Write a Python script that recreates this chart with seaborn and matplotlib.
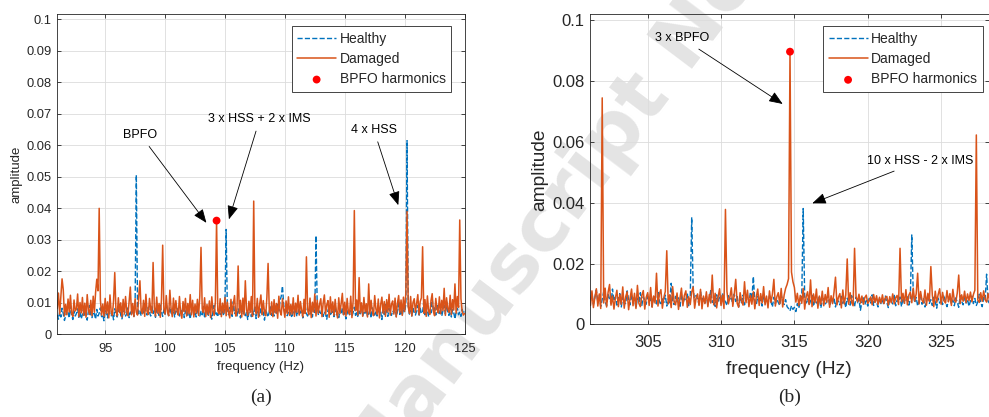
import matplotlib
matplotlib.use("Agg")
import matplotlib.pyplot as plt
import numpy as np
import seaborn as sns
from matplotlib.ticker import FormatStrFormatter

# spectrum amplitudes in units of 1e-4, sampled every 0.1 Hz
STEP_HZ = 0.1
START_A = 91.0
START_B = 301.0

healthy_a = [
    62, 48, 71, 55, 83, 66, 44, 58, 77, 69, 52, 90, 61, 47, 73, 58, 66, 81, 54, 70,
    49, 63, 86, 57, 68, 45, 74, 92, 60, 53, 71, 65, 48, 79, 58, 67, 84, 56, 62, 43,
    75, 69, 52, 88, 64, 57, 70, 46, 81, 63, 55, 72, 95, 61, 49, 68, 77, 58, 66, 84,
    53, 71, 62, 79, 57, 102, 506, 88, 65, 74, 59, 83, 68, 97, 72, 61, 86, 70, 58, 91,
    66, 75, 54, 82, 69, 60, 93, 71, 57, 78, 64, 101, 73, 59, 86, 68, 62, 80, 55, 74,
    69, 83, 58, 76, 64, 90, 53, 72, 81, 60, 67, 49, 78, 86, 62, 71, 55, 84, 66, 58,
    73, 62, 88, 51, 69, 77, 57, 83, 65, 48, 74, 92, 60, 68, 55, 79, 63, 86, 71, 59,
    98, 333, 76, 62, 85, 70, 57, 104, 66, 73, 58, 81, 67, 52, 89, 64, 75, 59, 70, 47,
    68, 82, 56, 74, 63, 91, 50, 77, 69, 58, 84, 62, 71, 45, 79, 66, 55, 73, 87, 60,
    72, 58, 83, 67, 95, 74, 108, 121, 153, 96, 64, 78, 59, 70, 86, 62, 53, 75, 68, 81,
    57, 69, 84, 63, 76, 52, 71, 90, 66, 58, 79, 64, 73, 55, 87, 69, 313, 96, 61, 74,
    66, 82, 57, 70, 63, 48, 77, 85, 59, 68, 74, 56, 91, 62, 70, 53, 79, 65, 84, 58,
    71, 49, 66, 80, 62, 75, 57, 69, 86, 60, 73, 54, 78, 65, 92, 58, 70, 63, 81, 56,
    67, 77, 52, 84, 69, 61, 74, 58, 88, 65, 71, 47, 79, 63, 94, 72, 57, 83, 66, 60,
    75, 68, 89, 56, 72, 101, 63, 80, 59, 85, 70, 96, 615, 88, 64, 77, 58, 82, 69, 61,
    74, 92, 57, 83, 66, 71, 104, 62, 87, 75, 56, 79, 68, 112, 73, 84, 61, 97, 70, 66,
    82, 58, 76, 91, 64, 103, 71, 60, 86, 55, 78, 68, 49, 74, 83, 62, 70, 57, 79, 66,
    72,
]

damaged_a = [
    82, 131, 64, 118, 176, 142, 58, 95, 62, 112, 71, 124, 66, 57, 109, 74, 80, 128, 56, 101,
    68, 117, 60, 99, 54, 126, 77, 63, 108, 59, 121, 70, 133, 175, 138, 400, 110, 61, 96, 57,
    114, 66, 103, 52, 125, 72, 60, 107, 196, 75, 58, 116, 69, 100, 55, 111, 64, 120, 73, 59,
    104, 150, 62, 98, 56, 113, 70, 61, 119, 170, 76, 65, 108, 57, 127, 72, 63, 114, 79, 68,
    228, 86, 58, 118, 67, 98, 54, 110, 283, 81, 64, 123, 71, 59, 140, 83, 56, 115, 66, 107,
    74, 61, 120, 68, 51, 104, 72, 114, 58, 98, 65, 126, 62, 108, 55, 96, 67, 111, 60, 122,
    276, 81, 69, 116, 57, 95, 63, 106, 53, 119, 73, 60, 103, 361, 76, 65, 113, 56, 99, 68,
    117, 59, 102, 71, 52, 111, 64, 97, 123, 58, 74, 217, 66, 108, 55, 115, 62, 170, 78, 60,
    105, 69, 120, 57, 423, 83, 65, 114, 54, 96, 125, 62, 107, 70, 59, 118, 225, 75, 63, 103,
    56, 110, 68, 98, 51, 121, 72, 61, 113, 80, 54, 106, 66, 119, 60, 95, 64, 116, 57, 99,
    70, 124, 61, 104, 76, 55, 111, 66, 246, 79, 62, 115, 53, 102, 71, 128, 58, 108, 67, 96,
    113, 56, 100, 125, 63, 94, 107, 54, 119, 69, 103, 60, 111, 73, 52, 116, 66, 98, 130, 62,
    102, 58, 114, 72, 64, 121, 53, 106, 393, 75, 109, 61, 180, 68, 100, 57, 117, 71, 97, 55,
    160, 65, 108, 74, 59, 123, 81, 63, 112, 52, 95, 118, 67, 104, 57, 110, 71, 127, 61, 96,
    106, 64, 115, 55, 99, 123, 69, 109, 60, 118, 73, 131, 390, 87, 66, 120, 58, 101, 113, 70,
    97, 126, 62, 104, 116, 278, 67, 110, 57, 122, 74, 63, 107, 129, 72, 59, 114, 80, 68, 119,
    65, 108, 75, 146, 60, 116, 82, 70, 124, 63, 110, 77, 160, 67, 120, 86, 363, 113, 73, 61,
    66,
]

healthy_b = [
    92, 78, 104, 66, 88, 113, 71, 95, 59, 82, 107, 74, 61, 98, 85, 69, 116, 77, 90, 63,
    84, 101, 57, 93, 72, 68, 110, 80, 64, 97, 75, 89, 53, 86, 70, 104, 62, 91, 78, 66,
    99, 73, 85, 58, 94, 81, 67, 109, 76, 63, 88, 72, 96, 60, 83, 71, 135, 79, 65, 92,
    74, 87, 56, 98, 69, 84, 77, 102, 61, 90, 352, 118, 73, 95, 82, 66, 107, 79, 88, 70,
    93, 64, 85, 111, 72, 80, 59, 97, 76, 89, 68, 103, 81, 74, 62, 94, 78, 86, 67, 100,
    75, 91, 58, 83, 71, 96, 64, 87, 79, 69, 106, 82, 157, 77, 63, 92, 73, 85, 60, 98,
    71, 80, 66, 94, 75, 57, 89, 68, 83, 72, 62, 97, 76, 65, 81, 58, 52, 44, 61, 49,
    56, 42, 68, 53, 74, 88, 381, 92, 70, 84, 63, 77, 95, 59, 81, 72, 66, 90, 54, 78,
    85, 67, 73, 96, 61, 79, 70, 88, 57, 83, 75, 64, 92, 69, 80, 55, 86, 72, 63, 94,
    76, 58, 89, 71, 82, 46, 74, 91, 65, 78, 60, 85, 70, 97, 62, 81, 73, 57, 88, 68,
    79, 64, 93, 72, 55, 84, 76, 67, 98, 61, 80, 73, 90, 58, 86, 69, 77, 95, 63, 82,
    294, 104, 71, 88, 60, 79, 92, 66, 84, 57, 75, 97, 69, 81, 62, 89, 74, 53, 86, 70,
    83, 65, 95, 72, 58, 78, 91, 67, 80, 61, 87, 73, 56, 94, 76, 64, 89, 70, 82, 59,
    77, 93, 68, 85, 62, 74, 99, 71, 58, 88, 80, 165, 76, 69,
]

damaged_b = [
    96, 62, 110, 55, 89, 117, 60, 100, 52, 745, 70, 119, 57, 105, 131, 63, 93, 50, 87, 112,
    58, 98, 66, 123, 53, 91, 107, 48, 86, 116, 61, 102, 52, 128, 69, 58, 95, 111, 50, 89,
    104, 62, 121, 56, 93, 70, 168, 60, 100, 114, 53, 88, 108, 242, 67, 97, 55, 124, 74, 64,
    103, 49, 86, 119, 61, 95, 110, 56, 91, 65, 106, 123, 53, 87, 100, 62, 115, 51, 93, 68,
    107, 58, 98, 70, 162, 64, 102, 54, 90, 117, 62, 96, 52, 378, 109, 67, 88, 120, 59, 99,
    148, 69, 56, 104, 76, 63, 140, 71, 112, 58, 95, 66, 107, 51, 89, 116, 62, 101, 70, 124,
    64, 93, 54, 110, 72, 99, 148, 60, 90, 104, 67, 118, 57, 96, 118, 131, 150, 897, 172, 140,
    121, 73, 102, 62, 95, 69, 118, 50, 91, 107, 65, 146, 58, 100, 71, 116, 53, 93, 66, 109,
    61, 98, 72, 121, 56, 94, 68, 106, 155, 64, 89, 101, 54, 113, 67, 96, 215, 66, 104, 72,
    61, 250, 91, 74, 99, 70, 93, 66, 88, 96, 69, 77, 90, 64, 98, 72, 94, 65, 89, 70,
    97, 68, 88, 92, 63, 91, 71, 100, 67, 87, 95, 65, 250, 74, 102, 69, 114, 64, 96, 106,
    71, 119, 76, 100, 168, 67, 108, 79, 70, 113, 63, 102, 75, 190, 96, 58, 109, 72, 98, 117,
    66, 105, 77, 70, 111, 74, 101, 62, 115, 79, 73, 103, 162, 68, 97, 76, 109, 71, 100, 78,
    106, 74, 98, 112, 623, 80, 72, 104, 76, 110, 81, 73, 101, 78,
]

bpfo_freq_a = [104.3]
bpfo_amp_a = [0.0361]
bpfo_freq_b = [314.7]
bpfo_amp_b = [0.0897]

BLUE = "#0072BD"
ORANGE = "#D95319"
INK = "#262626"
FONT = ["Liberation Sans", "DejaVu Sans"]

sns.set_style("ticks")
plt.rcParams["font.family"] = FONT
plt.rcParams["axes.edgecolor"] = INK
plt.rcParams["axes.linewidth"] = 0.6


def freqs(start, values):
    return start + STEP_HZ * np.arange(len(values))


def draw(ax, start, healthy, damaged, hf, ha, tick_size, label_size):
    x = freqs(start, healthy)
    sns.lineplot(x=x, y=np.array(healthy) * 1e-4, ax=ax, color=BLUE, lw=1.0,
                 linestyle="--", dashes=(4, 1.6), label="Healthy",
                 estimator=None, sort=False)
    x = freqs(start, damaged)
    sns.lineplot(x=x, y=np.array(damaged) * 1e-4, ax=ax, color=ORANGE, lw=1.1,
                 label="Damaged", estimator=None, sort=False)
    sns.scatterplot(x=hf, y=ha, ax=ax, color="red", s=32, edgecolor="none",
                    label="BPFO harmonics", zorder=5)
    ax.set_facecolor("none")
    ax.grid(True, color="#dcdcdc", lw=0.6)
    ax.set_axisbelow(True)
    ax.tick_params(direction="in", length=3, width=0.6, colors=INK,
                   labelsize=tick_size, top=True, right=True)
    ax.tick_params(axis="y", pad=4)
    ax.yaxis.set_major_formatter(FormatStrFormatter("%g"))
    ax.set_xlabel("frequency (Hz)", fontsize=label_size, color=INK)
    ax.set_ylabel("amplitude", fontsize=label_size, color=INK, labelpad=3)


def arrow(ax, text, xy, xytext, size):
    ax.annotate(text, xy=xy, xytext=xytext, ha="center", va="center",
                fontsize=size, color="black",
                arrowprops=dict(arrowstyle="-|>,head_length=0.7,head_width=0.28",
                                color="black", lw=0.6, shrinkA=2, shrinkB=0,
                                mutation_scale=12))


fig = plt.figure(figsize=(9.89, 4.17), dpi=100)
ax_a = fig.add_axes([0.0579, 0.1983, 0.4118, 0.7674])
ax_b = fig.add_axes([0.5966, 0.2223, 0.4029, 0.7434])

draw(ax_a, START_A, healthy_a, damaged_a, bpfo_freq_a, bpfo_amp_a, 9.3, 9.5)
ax_a.set_xlim(91, 125)
ax_a.set_ylim(0, 0.1016)
ax_a.set_xticks(np.arange(95, 126, 5))
ax_a.set_yticks(np.arange(0, 0.1001, 0.01))
ax_a.tick_params(axis="x", pad=6.5)
arrow(ax_a, "BPFO", (103.45, 0.0354), (97.95, 0.0633), 9)
arrow(ax_a, "3 x HSS + 2 x IMS", (105.33, 0.0365), (107.9, 0.0683), 9)
arrow(ax_a, "4 x HSS", (119.47, 0.0410), (117.43, 0.0649), 9)

draw(ax_b, START_B, healthy_b, damaged_b, bpfo_freq_b, bpfo_amp_b, 12, 13.8)
ax_b.set_xlim(301.07, 328.23)
ax_b.set_ylim(0, 0.102)
ax_b.set_xticks(np.arange(305, 326, 5))
ax_b.set_yticks(np.arange(0, 0.1001, 0.02))
ax_b.tick_params(axis="x", pad=8)
ax_b.xaxis.labelpad = 7.5
arrow(ax_b, "3 x BPFO", (314.2, 0.0725), (307.36, 0.0941), 9)
arrow(ax_b, "10 x HSS - 2 x IMS", (316.22, 0.0398), (323.58, 0.0538), 9)

for ax, anchor in ((ax_a, (0.967, 0.963)), (ax_b, (0.985, 0.961))):
    leg = ax.legend(loc="upper right", bbox_to_anchor=anchor, borderaxespad=0,
                    fontsize=10, fancybox=False, framealpha=1, edgecolor=INK,
                    handlelength=2.8, handletextpad=0.25, labelspacing=0.45,
                    borderpad=0.4)
    leg.get_frame().set_linewidth(0.6)

fig.text(0.264, 0.048, "(a)", ha="center", va="center", fontsize=14,
         family=["Liberation Serif", "DejaVu Serif"])
fig.text(0.798, 0.048, "(b)", ha="center", va="center", fontsize=14,
         family=["Liberation Serif", "DejaVu Serif"])

# faint manuscript watermark behind the axes
fig.text(0.358, -0.155, "Manuscript Not Copyedited", rotation=53,
         rotation_mode="anchor", ha="left", va="center", fontsize=57,
         fontweight="bold", color="#e4e4e4", zorder=-1,
         family=["DejaVu Sans"])

fig.savefig("out.png", dpi=100)
